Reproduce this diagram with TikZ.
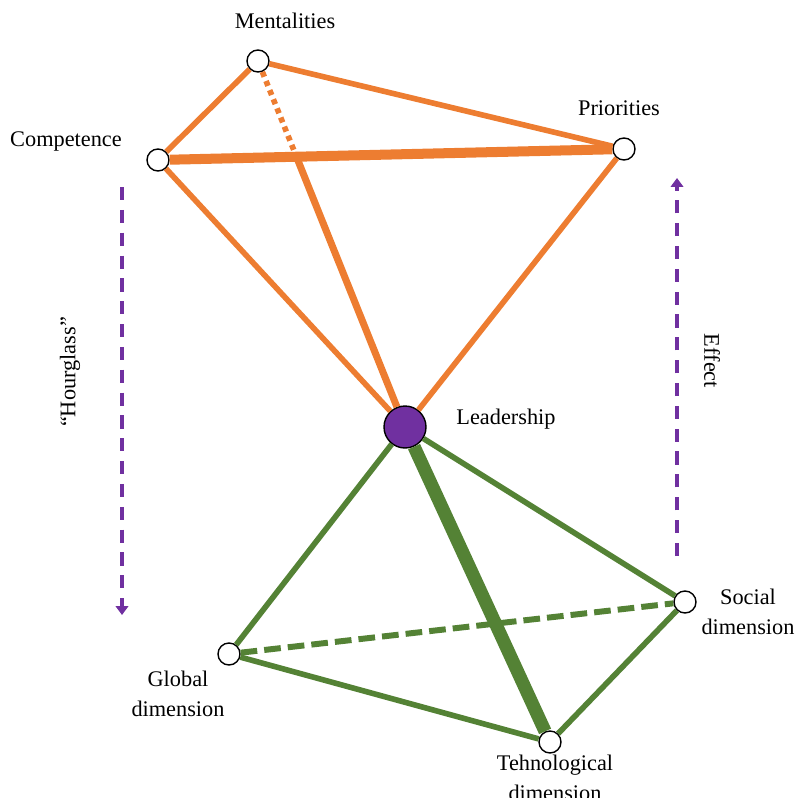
\documentclass[tikz,border=0pt]{standalone}
\usepackage{fontspec}
\setmainfont{Liberation Serif}
\usetikzlibrary{arrows.meta}
\usetikzlibrary{calc}

\definecolor{hgorange}{HTML}{ED7D31}
\definecolor{hggreen}{HTML}{548235}
\definecolor{hgpurple}{HTML}{7030A0}

\begin{document}
\begin{tikzpicture}[x=0.02cm,y=-0.02cm,
        font=\fontsize{12.7}{17}\selectfont,
        dot/.style={circle,draw,line width=0.8pt,fill=white,inner sep=0pt,minimum size=0.44cm},
        lbl/.style={align=center,inner sep=0pt},
        orangeline/.style={hgorange,line width=3.2pt},
        greenline/.style={hggreen,line width=3.2pt},
        dotline/.style={dash pattern=on 3pt off 2.6pt},
        flow/.style={hgpurple,line width=2.3pt,dash pattern=on 7.5pt off 5.5pt,-{Triangle[length=5pt,width=7pt]}}]
            \useasboundingbox (0,0) rectangle (796,798);

            \node[dot] (ment) at (258,61) {};
            \node[dot] (comp) at (158,160) {};
            \node[dot] (prio) at (624,149) {};
            \node[dot,fill=hgpurple,minimum size=0.84cm] (lead) at (405,427) {};
            \node[dot] (soc) at (685,602) {};
            \node[dot] (glob) at (229,654) {};
            \node[dot] (tech) at (550,742) {};

            \node[lbl] (mentlbl) at (285,21) {Mentalities};
            \node[lbl] (complbl) at (66,141) {Competence};
            \node[lbl] (priolbl) at (619,108) {Priorities};
            \node[lbl] (leadlbl) at (506,419) {Leadership};
            \node[lbl] (soclbl) at (748,612) {Social\\dimension};
            \node[lbl] (globlbl) at (178,694) {Global\\dimension};
            \node[lbl] (techlbl) at (555,778) {Tehnological\\dimension};
            \node[lbl,rotate=90] (hglbl) at (70,372) {“Hourglass”};
            \node[lbl,rotate=-90] (efflbl) at (712,361) {Effect};

            \coordinate (mcross) at ($(ment)!0.26!(lead)$);
            \draw[orangeline] (ment) -- (prio);
            \draw[orangeline] (ment) -- (comp);
            \draw[orangeline,line width=5.7pt] (comp) -- (prio);
            \draw[orangeline] (comp) -- (lead);
            \draw[orangeline] (prio) -- (lead);
            \draw[orangeline,dotline] (ment) -- (mcross);
            \draw[orangeline,line width=4pt] (mcross) -- (lead);

            \draw[greenline] (lead) -- (glob);
            \draw[greenline] (lead) -- (soc);
            \draw[greenline,line width=7.5pt] (lead) -- (tech);
            \draw[greenline,line width=3.4pt,dash pattern=on 9.5pt off 4pt] (glob) -- (soc);
            \draw[greenline] (glob) -- (tech);
            \draw[greenline] (soc) -- (tech);

            \coordinate (hgtop) at (122,187);
            \coordinate (hgbot) at (122,615);
            \coordinate (effbot) at (677,556);
            \coordinate (efftop) at (677,178);
            \draw[flow] (hgtop) -- (hgbot);
            \draw[flow] (effbot) -- (efftop);
        \end{tikzpicture}
\end{document}
